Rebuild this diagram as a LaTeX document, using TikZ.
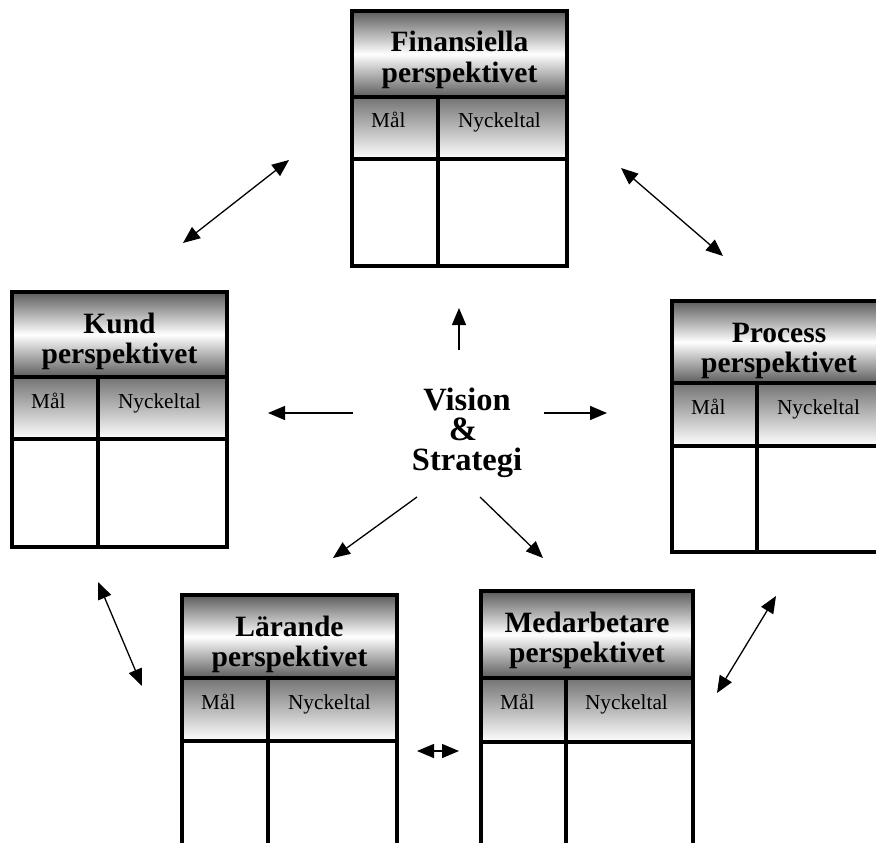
\documentclass[tikz,border=0pt]{standalone}
\usepackage{fontspec}
\setmainfont{Liberation Serif}
\usetikzlibrary{arrows.meta}
\colorlet{hdrgray}{black!64}
\colorlet{subgray}{black!55}
\tikzset{
  boxline/.style={line width=3.3pt},
  ttl/.style={font=\fontsize{29.5}{31}\selectfont\bfseries, anchor=base, inner sep=0pt},
  cell/.style={font=\fontsize{21.3}{24}\selectfont, anchor=base, inner sep=0pt},
  vis/.style={font=\fontsize{32.5}{30}\selectfont\bfseries, align=center, inner sep=0pt},
  conn/.style={line width=1.3pt, -{Triangle[length=17pt,width=14pt]}},
  dconn/.style={line width=1.3pt, {Triangle[length=17pt,width=14pt]}-{Triangle[length=17pt,width=14pt]}},
}
% #1 name, #2 left, #3 top, #4 right, #5 header bottom, #6 subheader bottom, #7 bottom, #8 divider, #9 title
\newcommand\perspbox[9]{%
  \shade[top color=hdrgray, bottom color=hdrgray, middle color=white] (#2,#3) rectangle (#4,#5);
  \shade[top color=subgray, bottom color=white] (#2,#5) rectangle (#4,#6);
  \draw[boxline] (#2,#3) rectangle (#4,#7);
  \draw[boxline] (#2,#5) -- (#4,#5) (#2,#6) -- (#4,#6) (#8,#5) -- (#8,#7);
  \node[ttl] (#1-t1) at ({(#2+#4)/2},#3+41) {#9};
  \node[ttl] (#1-t2) at ({(#2+#4)/2},#3+71) {perspektivet};
  \node[cell, anchor=base west] (#1-mal) at (#2+19,#5+31) {Mål};
  \node[cell] (#1-nyc) at ({(#8+#4)/2-3},#5+31) {Nyckeltal};
}
\begin{document}
\begin{tikzpicture}[x=1pt,y=-1pt]
  \useasboundingbox (0,0) rectangle (876,843);
  \clip (0,0) rectangle (876,843);
  \fill[white] (0,0) rectangle (876,843);

  \perspbox{fin}{352}{11}{567}{97}{159}{266}{438}{Finansiella}
  \perspbox{kund}{12}{292}{227}{377}{439}{547}{98}{Kund}
  \perspbox{proc}{672}{301}{886}{383}{446}{552}{757}{Process}
  \perspbox{lar}{182}{595}{397}{678}{741}{870}{268}{Lärande}
  \perspbox{med}{481}{591}{693}{678}{742}{870}{566}{Medarbetare}

  \node[vis] (vis) at (467,433) {Vision\\\hspace*{-8pt}{\fontsize{34}{30}\selectfont\&}\\Strategi};

  % arrow end points
  \coordinate (upA) at (459,350);  \coordinate (upB) at (459,308);
  \coordinate (lfA) at (353,413);  \coordinate (lfB) at (268,413);
  \coordinate (rtA) at (544,413);  \coordinate (rtB) at (607,413);
  \coordinate (dlA) at (417,497);  \coordinate (dlB) at (333,558);
  \coordinate (drA) at (480,497);  \coordinate (drB) at (543,558);

  \coordinate (kf1) at (183,243);  \coordinate (kf2) at (289,160);
  \coordinate (fp1) at (621,168);  \coordinate (fp2) at (723,256);
  \coordinate (kl1) at (98,582);   \coordinate (kl2) at (142,686);
  \coordinate (pm1) at (776,596);  \coordinate (pm2) at (717,693);
  \coordinate (lm1) at (417,751);  \coordinate (lm2) at (459,751);

  \draw[conn] (upA) -- (upB);
  \draw[conn] (lfA) -- (lfB);
  \draw[conn] (rtA) -- (rtB);
  \draw[conn] (dlA) -- (dlB);
  \draw[conn] (drA) -- (drB);

  \draw[dconn] (kf1) -- (kf2);
  \draw[dconn] (fp1) -- (fp2);
  \draw[dconn] (kl1) -- (kl2);
  \draw[dconn] (pm1) -- (pm2);
  \draw[dconn] (lm1) -- (lm2);
\end{tikzpicture}
\end{document}
